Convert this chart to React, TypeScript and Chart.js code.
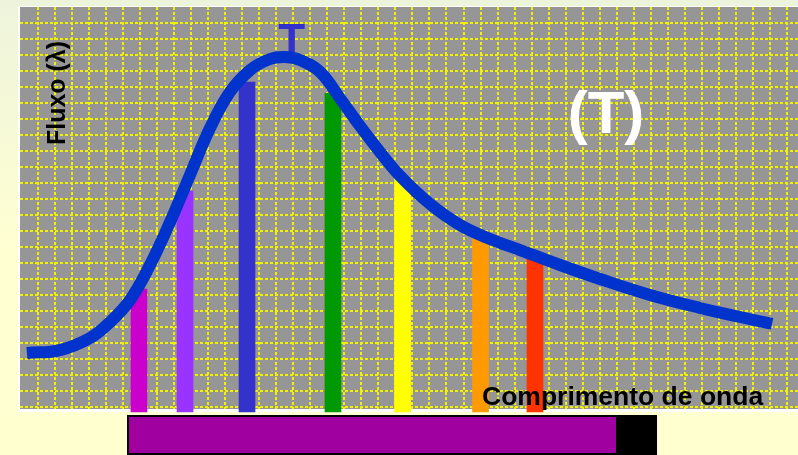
import { useEffect, useRef } from 'react';
import { Chart, registerables } from 'chart.js';

Chart.register(...registerables);

const FONT = '"Liberation Sans", Arial, Helvetica, sans-serif';

// Black-body flux curve, measured in graph-paper cells (x: wavelength, y: flux)
const waveCells = [-0.65, 1.29, 3.06, 4.23, 5.41, 6.58, 7.76, 8.93, 10.11, 11.28, 12.46, 13.63, 14.51, 15.39, 16.57, 17.74, 18.92, 20.09, 21.27, 23.03, 24.79, 26.56, 28.32, 30.67, 33.02, 35.96, 38.9, 41.25, 43.13];
const fluxCells = [3.375, 3.56, 4.31, 5.31, 6.69, 8.875, 11.56, 14.5, 17.44, 19.69, 21.06, 21.75, 21.875, 21.69, 20.94, 19.3, 17.56, 15.94, 14.44, 12.69, 11.375, 10.5, 9.81, 8.875, 8.0, 7.0, 6.19, 5.625, 5.19];

// Spectral colour lines under the curve
const colourNames = ['violeta', 'anil', 'azul', 'verde', 'amarelo', 'laranja', 'vermelho'];
const colourWave = [5.93, 8.64, 12.28, 17.33, 21.42, 26.0, 29.2];
const colourFlux = [7.375, 13.5, 20.3, 19.6, 14.3, 10.6, 9.3];
const colourFill = ['#CC00CC', '#9933FF', '#3333CC', '#009900', '#FFFF00', '#FF9900', '#FF3300'];
const colourBase = -0.31;

// Visible band strip below the paper
const bandStart = 5.23;
const bandVisibleEnd = 33.96;
const bandEnd = 36.37;

// Peak marker
const peakWave = 14.9;
const peakLabelFlux = 22.0;
const peakLabel = 'T';

const texts = {
  temp: '(T)',
  yTitle: 'Fluxo (λ)',
  xTitle: 'Comprimento de onda',
};

const xGrid = Array.from({ length: 45 }, (_, i) => i);
const yGrid = Array.from({ length: 25 }, (_, i) => i);

const decorations = {
  id: 'decorations',
  beforeDraw(chart: any) {
    const { ctx, chartArea: a } = chart;
    ctx.save();
    ctx.fillStyle = '#ffffff';
    ctx.fillRect(a.left - 2, a.top - 1, a.right - a.left + 2, a.bottom - a.top + 4);
    ctx.fillStyle = '#969696';
    ctx.fillRect(a.left, a.top, a.right - a.left, a.bottom - a.top);
    ctx.restore();
  },
  beforeDatasetsDraw(chart: any) {
    const { ctx, scales } = chart;
    ctx.save();
    ctx.font = `bold 44px ${FONT}`;
    ctx.fillStyle = '#3333CC';
    ctx.textAlign = 'center';
    ctx.textBaseline = 'alphabetic';
    ctx.fillText(peakLabel, scales.x.getPixelForValue(peakWave), scales.y.getPixelForValue(peakLabelFlux));
    ctx.restore();
  },
  afterDatasetsDraw(chart: any) {
    const { ctx } = chart;
    ctx.save();
    ctx.textBaseline = 'alphabetic';

    ctx.fillStyle = '#ffffff';
    ctx.font = `bold 60px ${FONT}`;
    ctx.textAlign = 'center';
    ctx.fillText(texts.temp, 606, 133);

    ctx.fillStyle = '#000000';
    ctx.font = `bold 26.5px ${FONT}`;
    ctx.textAlign = 'left';
    ctx.fillText(texts.xTitle, 482, 405);

    ctx.translate(65, 93);
    ctx.rotate(-Math.PI / 2);
    ctx.font = `bold 25px ${FONT}`;
    ctx.textAlign = 'center';
    ctx.fillText(texts.yTitle, 0, 0);
    ctx.restore();
  },
  afterDraw(chart: any) {
    const { ctx, scales, chartArea: a, height } = chart;
    const x0 = scales.x.getPixelForValue(bandStart);
    const x1 = scales.x.getPixelForValue(bandVisibleEnd);
    const x2 = scales.x.getPixelForValue(bandEnd);
    const top = a.bottom + 6;
    ctx.save();
    ctx.fillStyle = '#000000';
    ctx.fillRect(x0, top, x2 - x0, height - top);
    ctx.fillStyle = '#A000A0';
    ctx.fillRect(x0 + 2, top + 2, x1 - x0 - 2, height - top - 4);
    ctx.restore();
  },
};

export default function App() {
  const ref = useRef<HTMLCanvasElement>(null);

  useEffect(() => {
    const chart = new Chart(ref.current!, {
      type: 'bar',
      data: {
        datasets: [
          {
            type: 'line',
            label: 'Fluxo',
            data: waveCells.map((x, i) => ({ x, y: fluxCells[i] })),
            borderColor: '#0033CC',
            borderWidth: 12,
            borderCapStyle: 'butt',
            borderJoinStyle: 'round',
            pointRadius: 0,
            tension: 0.4,
            fill: false,
            order: 0,
          } as any,
          {
            type: 'bar',
            label: 'Cores',
            data: colourWave.map((x, i) => ({ x, y: [colourBase, colourFlux[i]], name: colourNames[i] })),
            backgroundColor: colourFill,
            borderWidth: 0,
            barThickness: 16,
            grouped: false,
            clip: false,
            order: 1,
          } as any,
        ],
      },
      options: {
        animation: false,
        responsive: false,
        events: [],
        layout: { padding: { left: 20, top: 7, right: 0, bottom: 46 } },
        plugins: { legend: { display: false }, tooltip: { enabled: false } },
        scales: {
          x: {
            type: 'linear',
            offset: false,
            min: -1.0576,
            max: 44.653,
            afterBuildTicks: (s: any) => {
              s.ticks = xGrid.map((value) => ({ value }));
            },
            ticks: { display: false },
            grid: { color: '#F2F200', lineWidth: 2, drawTicks: false, offset: false },
            border: { display: false, dash: [3, 2] },
          },
          y: {
            type: 'linear',
            min: -0.125,
            max: 25,
            afterBuildTicks: (s: any) => {
              s.ticks = yGrid.map((value) => ({ value }));
            },
            ticks: { display: false },
            grid: { color: '#F2F200', lineWidth: 2, drawTicks: false, offset: false },
            border: { display: false, dash: [3, 2] },
          },
        },
      },
      plugins: [decorations],
    });
    return () => chart.destroy();
  }, []);

  return (
    <div
      style={{
        position: 'fixed',
        left: 0,
        top: 0,
        width: 798,
        height: 455,
        background: 'linear-gradient(#EEF4DC, #FFFFD2 55%, #FFFFD0)',
      }}
    >
      <canvas ref={ref} width={798} height={455} style={{ display: 'block' }} />
    </div>
  );
}
